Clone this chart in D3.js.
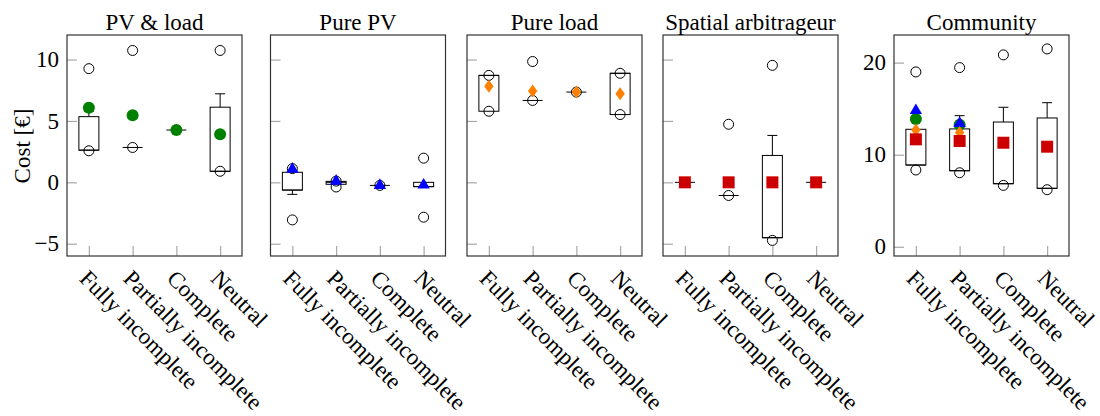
<!DOCTYPE html>
<html>
<head>
<meta charset="utf-8">
<script src="https://cdn.jsdelivr.net/npm/d3@7"></script>
<style>
  html, body { margin: 0; padding: 0; background: #fff; }
  svg text { font-family: "Liberation Serif", "Times New Roman", serif; fill: #000; font-size: 23px; }
</style>
</head>
<body>
<svg id="chart" width="1100" height="416"></svg>
<script>
// Market information scenarios on the x axis
const categories = ["Fully incomplete", "Partially incomplete", "Complete", "Neutral"];
const panelTitles = ["PV & load", "Pure PV", "Pure load", "Spatial arbitrageur", "Community"];

// Box statistics per scenario: [lower whisker, q1, median, q3, upper whisker]
const pvLoadBoxes = [[2.62, 2.62, 2.62, 5.35, 5.8], [2.84, 2.84, 2.84, 2.84, 2.84], [4.26, 4.26, 4.26, 4.26, 4.26], [0.9, 0.9, 0.9, 6.12, 7.21]];
const pvLoadPoints = [[9.26, 2.57], [10.74, 2.84], [], [10.74, 0.9]];
const pvLoadMeans = [6.07, 5.46, 4.26, 3.91];

const purePvBoxes = [[-0.98, -0.63, -0.63, 0.82, 0.82], [-0.16, -0.16, 0, 0.08, 0.08], [-0.25, -0.25, -0.25, -0.25, -0.25], [-0.35, -0.35, -0.35, 0, 0]];
const purePvPoints = [[1.12, -3.06], [0.1, -0.38], [-0.25], [1.97, -2.84]];
const purePvMeans = [1.07, 0.1, -0.25, -0.22];

const pureLoadBoxes = [[5.79, 5.79, 8.71, 8.71, 8.71], [6.67, 6.67, 6.67, 6.67, 6.67], [7.35, 7.35, 7.35, 7.35, 7.35], [5.52, 5.52, 8.88, 8.88, 8.88]];
const pureLoadPoints = [[8.71, 5.79], [9.84, 6.67], [7.35], [8.88, 5.52]];
const pureLoadMeans = [7.82, 7.43, 7.35, 7.21];

const arbitrageurBoxes = [[0, 0, 0, 0, 0], [-1.07, -1.07, -1.07, -1.07, -1.07], [-4.51, -4.51, -4.51, 2.19, 3.82], [0, 0, 0, 0, 0]];
const arbitrageurPoints = [[], [4.73, -1.07], [9.53, -4.73], []];
const arbitrageurMeans = [0, 0, 0, 0];

const communityBoxes = [[8.88, 8.88, 8.88, 12.76, 13.9], [8.26, 8.26, 8.26, 12.8, 14.24], [6.85, 6.85, 6.85, 13.55, 15.15], [6.35, 6.35, 6.35, 13.99, 15.65]];
const communityPoints = [[18.99, 8.34], [19.46, 8.04], [20.84, 6.67], [21.49, 6.2]];
const communityPvLoadMeans = [13.88, 13.26, null, null];
const communityPurePvMeans = [14.8, 13.4, null, null];
const communityPureLoadMeans = [12.68, 12.4, null, null];
const communityArbitrageurMeans = [11.67, 11.49, 11.3, 10.87];

// Y axis ticks
const agentTicks = [-5, 0, 5, 10];
const communityTicks = [0, 10, 20];
const agentDomain = [-6, 12];
const communityDomain = [-1, 23];

// Marker styles
const colors = { pvLoad: "#008000", purePv: "#0000ff", pureLoad: "#ff8000", arbitrageur: "#cc0000" };

const diamondSymbol = {
  draw(ctx, size) {
    const h = Math.sqrt(size) * 0.93, w = h * 0.72;
    ctx.moveTo(0, -h); ctx.lineTo(w, 0); ctx.lineTo(0, h); ctx.lineTo(-w, 0); ctx.closePath();
  }
};
const markers = {
  pvLoad: d3.symbol(d3.symbolCircle, Math.PI * 36),
  purePv: d3.symbol(d3.symbolTriangle, 66),
  pureLoad: d3.symbol(diamondSymbol, 49),
  arbitrageur: d3.symbol(d3.symbolSquare, 144)
};

const panelLeft = [67, 270.5, 467, 663, 894];
const panelWidth = 175;
const plotTop = 35, plotBottom = 256;

const svg = d3.select("#chart");

const panels = [
  { boxes: pvLoadBoxes, points: pvLoadPoints, means: [["pvLoad", pvLoadMeans]], ticks: agentTicks, domain: agentDomain, labels: true },
  { boxes: purePvBoxes, points: purePvPoints, means: [["purePv", purePvMeans]], ticks: agentTicks, domain: agentDomain, labels: false },
  { boxes: pureLoadBoxes, points: pureLoadPoints, means: [["pureLoad", pureLoadMeans]], ticks: agentTicks, domain: agentDomain, labels: false },
  { boxes: arbitrageurBoxes, points: arbitrageurPoints, means: [["arbitrageur", arbitrageurMeans]], ticks: agentTicks, domain: agentDomain, labels: false },
  { boxes: communityBoxes, points: communityPoints,
    means: [["pvLoad", communityPvLoadMeans], ["purePv", communityPurePvMeans], ["pureLoad", communityPureLoadMeans], ["arbitrageur", communityArbitrageurMeans]],
    ticks: communityTicks, domain: communityDomain, labels: true }
];

const fmt = v => (v < 0 ? "\u2212" + Math.abs(v) : String(v));

panels.forEach((p, i) => {
  const x0 = panelLeft[i];
  const x = d3.scalePoint().domain(categories).range([x0 + panelWidth / 8, x0 + panelWidth * 7 / 8]);
  const y = d3.scaleLinear().domain(p.domain).range([plotBottom, plotTop]);
  const g = svg.append("g");

  // Tick marks (inside, grey)
  const yAxis = d3.axisRight(y).tickValues(p.ticks).tickSize(10).tickFormat("");
  g.append("g").attr("transform", `translate(${x0},0)`).call(yAxis)
    .call(a => a.select(".domain").remove())
    .call(a => a.selectAll(".tick line").attr("stroke", "#a8a8a8").attr("stroke-width", 1.2));
  const xAxis = d3.axisTop(x).tickSize(10).tickFormat("");
  g.append("g").attr("transform", `translate(0,${plotBottom})`).call(xAxis)
    .call(a => a.select(".domain").remove())
    .call(a => a.selectAll(".tick line").attr("stroke", "#a8a8a8").attr("stroke-width", 1.2));

  // Tick labels
  if (p.labels) {
    g.append("g").selectAll("text").data(p.ticks).join("text")
      .attr("x", x0 - 8).attr("y", d => y(d)).attr("dy", "0.33em")
      .attr("text-anchor", "end")
      .text(fmt);
  }

  // Boxes
  const bw = 20, cap = 10;
  const bx = g.append("g").attr("fill", "none").attr("stroke", "#000").attr("stroke-width", 1);
  p.boxes.forEach((b, j) => {
    const cx = x(categories[j]);
    const [lw, q1, med, q3, uw] = b;
    if (uw > q3) {
      bx.append("line").attr("x1", cx).attr("x2", cx).attr("y1", y(q3)).attr("y2", y(uw));
      bx.append("line").attr("x1", cx - cap / 2).attr("x2", cx + cap / 2).attr("y1", y(uw)).attr("y2", y(uw));
    }
    if (lw < q1) {
      bx.append("line").attr("x1", cx).attr("x2", cx).attr("y1", y(q1)).attr("y2", y(lw));
      bx.append("line").attr("x1", cx - cap / 2).attr("x2", cx + cap / 2).attr("y1", y(lw)).attr("y2", y(lw));
    }
    if (q3 > q1) {
      bx.append("rect").attr("x", cx - bw / 2).attr("width", bw).attr("y", y(q3)).attr("height", y(q1) - y(q3));
    }
    bx.append("line").attr("x1", cx - bw / 2).attr("x2", cx + bw / 2).attr("y1", y(med)).attr("y2", y(med));
  });

  // Individual points
  g.append("g").selectAll("circle")
    .data(p.points.flatMap((pts, j) => pts.map(v => ({ c: categories[j], v }))))
    .join("circle")
    .attr("cx", d => x(d.c)).attr("cy", d => y(d.v)).attr("r", 5)
    .attr("fill", "none").attr("stroke", "#000").attr("stroke-width", 1);

  // Mean markers
  p.means.forEach(([key, vals]) => {
    g.append("g").selectAll("path")
      .data(vals.map((v, j) => ({ c: categories[j], v })).filter(d => d.v !== null))
      .join("path")
      .attr("d", markers[key])
      .attr("transform", d => `translate(${x(d.c)},${y(d.v)})`)
      .attr("fill", colors[key]);
  });

  // Frame
  g.append("rect").attr("x", x0).attr("y", plotTop).attr("width", panelWidth).attr("height", plotBottom - plotTop)
    .attr("fill", "none").attr("stroke", "#333").attr("stroke-width", 1.2);

  // Title
  g.append("text").attr("x", x0 + panelWidth / 2).attr("y", 30)
    .attr("text-anchor", "middle").text(panelTitles[i]);

  // Rotated scenario labels
  g.append("g").selectAll("text").data(categories).join("text")
    .attr("transform", d => `translate(${x(d)},${269}) rotate(45)`)
    .attr("dy", "0.66em")
    .text(d => d);
});

// Y axis title
svg.append("text")
  .attr("transform", "translate(22,146) rotate(-90)")
  .attr("text-anchor", "middle").attr("dy", "0.35em")
  .text("Cost [€]");
</script>
</body>
</html>
